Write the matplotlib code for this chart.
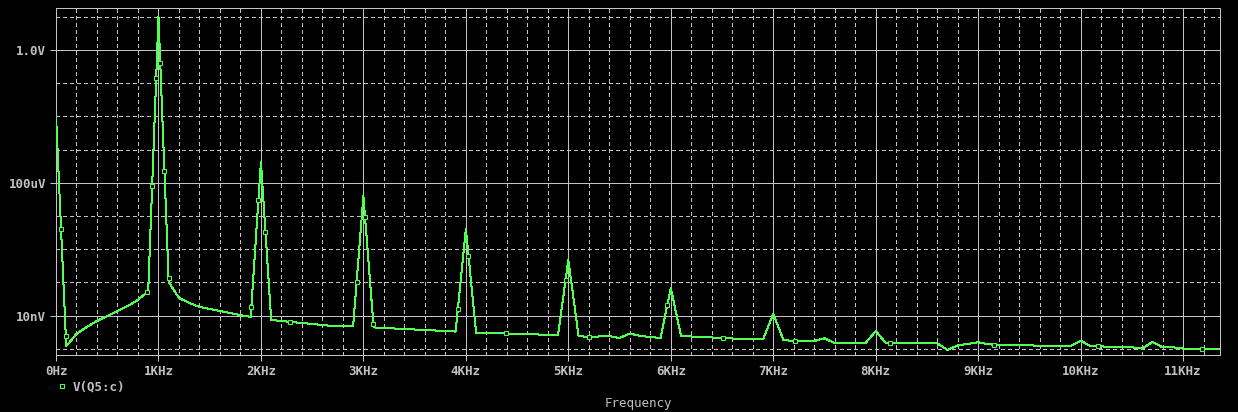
import numpy as np
from matplotlib import pyplot as plt
from matplotlib.lines import Line2D

# FFT bins of V(Q5:c), 100 Hz resolution
freq_hz = np.arange(0, 11500, 100)
mag_v = [
    1.10e-2, 1.21e-9, 2.79e-9, 4.54e-9, 6.87e-9, 9.73e-9, 1.38e-8, 1.95e-8, 2.95e-8, 5.51e-8,
    9.86, 1.03e-7, 3.39e-8, 2.40e-8, 1.82e-8, 1.58e-8, 1.38e-8, 1.20e-8, 1.04e-8, 9.08e-9,
    4.23e-4, 7.37e-9, 6.87e-9, 6.41e-9, 5.99e-9, 5.59e-9, 5.21e-9, 4.86e-9, 4.86e-9, 4.86e-9,
    4.00e-5, 4.40e-9, 4.23e-9, 4.09e-9, 3.95e-9, 3.81e-9, 3.68e-9, 3.56e-9, 3.44e-9, 3.30e-9,
    4.06e-6, 2.99e-9, 2.99e-9, 2.89e-9, 2.89e-9, 2.79e-9, 2.79e-9, 2.70e-9, 2.61e-9, 2.61e-9,
    4.73e-7, 2.43e-9, 2.27e-9, 2.35e-9, 2.43e-9, 2.11e-9, 2.89e-9, 2.43e-9, 2.27e-9, 2.11e-9,
    6.78e-8, 2.43e-9, 2.35e-9, 2.27e-9, 2.19e-9, 2.11e-9, 2.04e-9, 1.97e-9, 1.97e-9, 1.91e-9,
    1.12e-8, 1.84e-9, 1.72e-9, 1.72e-9, 1.72e-9, 2.07e-9, 1.47e-9, 1.47e-9, 1.47e-9, 1.47e-9,
    3.44e-9, 1.47e-9, 1.47e-9, 1.47e-9, 1.47e-9, 1.47e-9, 1.47e-9, 9.20e-10, 1.27e-9, 1.40e-9,
    1.57e-9, 1.37e-9, 1.30e-9, 1.30e-9, 1.30e-9, 1.30e-9, 1.19e-9, 1.19e-9, 1.19e-9, 1.19e-9,
    1.75e-9, 1.19e-9, 1.19e-9, 1.11e-9, 1.11e-9, 1.11e-9, 1.01e-9, 1.60e-9, 1.11e-9, 1.11e-9,
    1.01e-9, 1.01e-9, 1.01e-9, 1.01e-9, 1.01e-9,
]

x_major = np.arange(0, 12000, 1000)
x_labels = ["0Hz"] + [f"{k}KHz" for k in range(1, 12)]
y_major = [1.0, 1e-4, 1e-8]
y_labels = ["1.0V", "100uV", "10nV"]
trace_name = "V(Q5:c)"

BG = "black"
GRID = "#c8c0c8"
TEXT = "#c0c0c0"
TRACE = "#50ff50"
PX = 0.72  # one pixel in points at dpi 100


def marker_points(ax, x, y, first=114.0, step=107.5):
    """Place symbols along the trace every `step` screen pixels, like the probe window does."""
    pts = ax.transData.transform(np.column_stack([x, y]))
    seg = np.hypot(*np.diff(pts, axis=0).T)
    s = np.concatenate([[0], np.cumsum(seg)])
    where = np.arange(first, s[-1], step)
    px = np.interp(where, s, pts[:, 0])
    py = np.interp(where, s, pts[:, 1])
    return ax.transData.inverted().transform(np.column_stack([px, py]))


def main():
    plt.rcParams["font.family"] = ["DejaVu Sans Mono"]
    plt.rcParams["font.weight"] = "bold"
    plt.rcParams["lines.antialiased"] = False

    W, H = 1238, 412
    fig = plt.figure(figsize=(W / 100, H / 100), dpi=100, facecolor=BG)
    ax = fig.add_axes([56 / W, (H - 355) / H, (1220 - 56) / W, (355 - 8) / H], facecolor=BG)

    ax.set_yscale("log")
    ax.set_xlim(0, 11360)
    ax.set_ylim(6.5e-10, 18.4)

    ax.set_xticks(x_major, x_labels)
    ax.set_xticks(np.arange(0, 11400, 200), minor=True)
    ax.set_yticks(y_major, y_labels)
    ax.set_yticks([10.0 ** k for k in range(-9, 2)], minor=True)
    ax.yaxis.set_minor_formatter(plt.NullFormatter())

    ax.grid(which="major", color=GRID, lw=PX, ls="-")
    ax.grid(which="minor", color=GRID, lw=PX, ls=(0, (4, 3)))
    ax.tick_params(which="major", length=4, width=PX, color=GRID, labelcolor=TEXT, labelsize=9)
    ax.tick_params(axis="x", which="major", pad=3)
    ax.tick_params(axis="y", which="major", pad=3)
    ax.tick_params(which="minor", length=0)
    for sp in ax.spines.values():
        sp.set_color(GRID)
        sp.set_linewidth(PX)

    ax.plot(freq_hz, mag_v, color=TRACE, lw=PX, zorder=3)
    mk = marker_points(ax, freq_hz, mag_v)
    ax.plot(mk[:, 0], mk[:, 1], ls="none", marker="s", ms=3.0, mew=0.75,
            mec=TRACE, mfc=BG, zorder=4)

    ax.set_xlabel("Frequency", color=TEXT, fontsize=9, va="center")
    ax.xaxis.set_label_coords(0.5, (355 - 403) / 347)

    handle = Line2D([], [], ls="none", marker="s", ms=3.0, mew=0.75, mec=TRACE, mfc=BG)
    fig.legend([handle], [trace_name], loc="center left",
               bbox_to_anchor=(56.5 / W, 1 - 387 / H), frameon=False,
               handlelength=0.8, handletextpad=0.5, borderpad=0, borderaxespad=0,
               prop={"size": 9, "weight": "bold"}, labelcolor=TEXT)

    fig.savefig("out.png", dpi=100, facecolor=BG)


if __name__ == "__main__":
    main()
